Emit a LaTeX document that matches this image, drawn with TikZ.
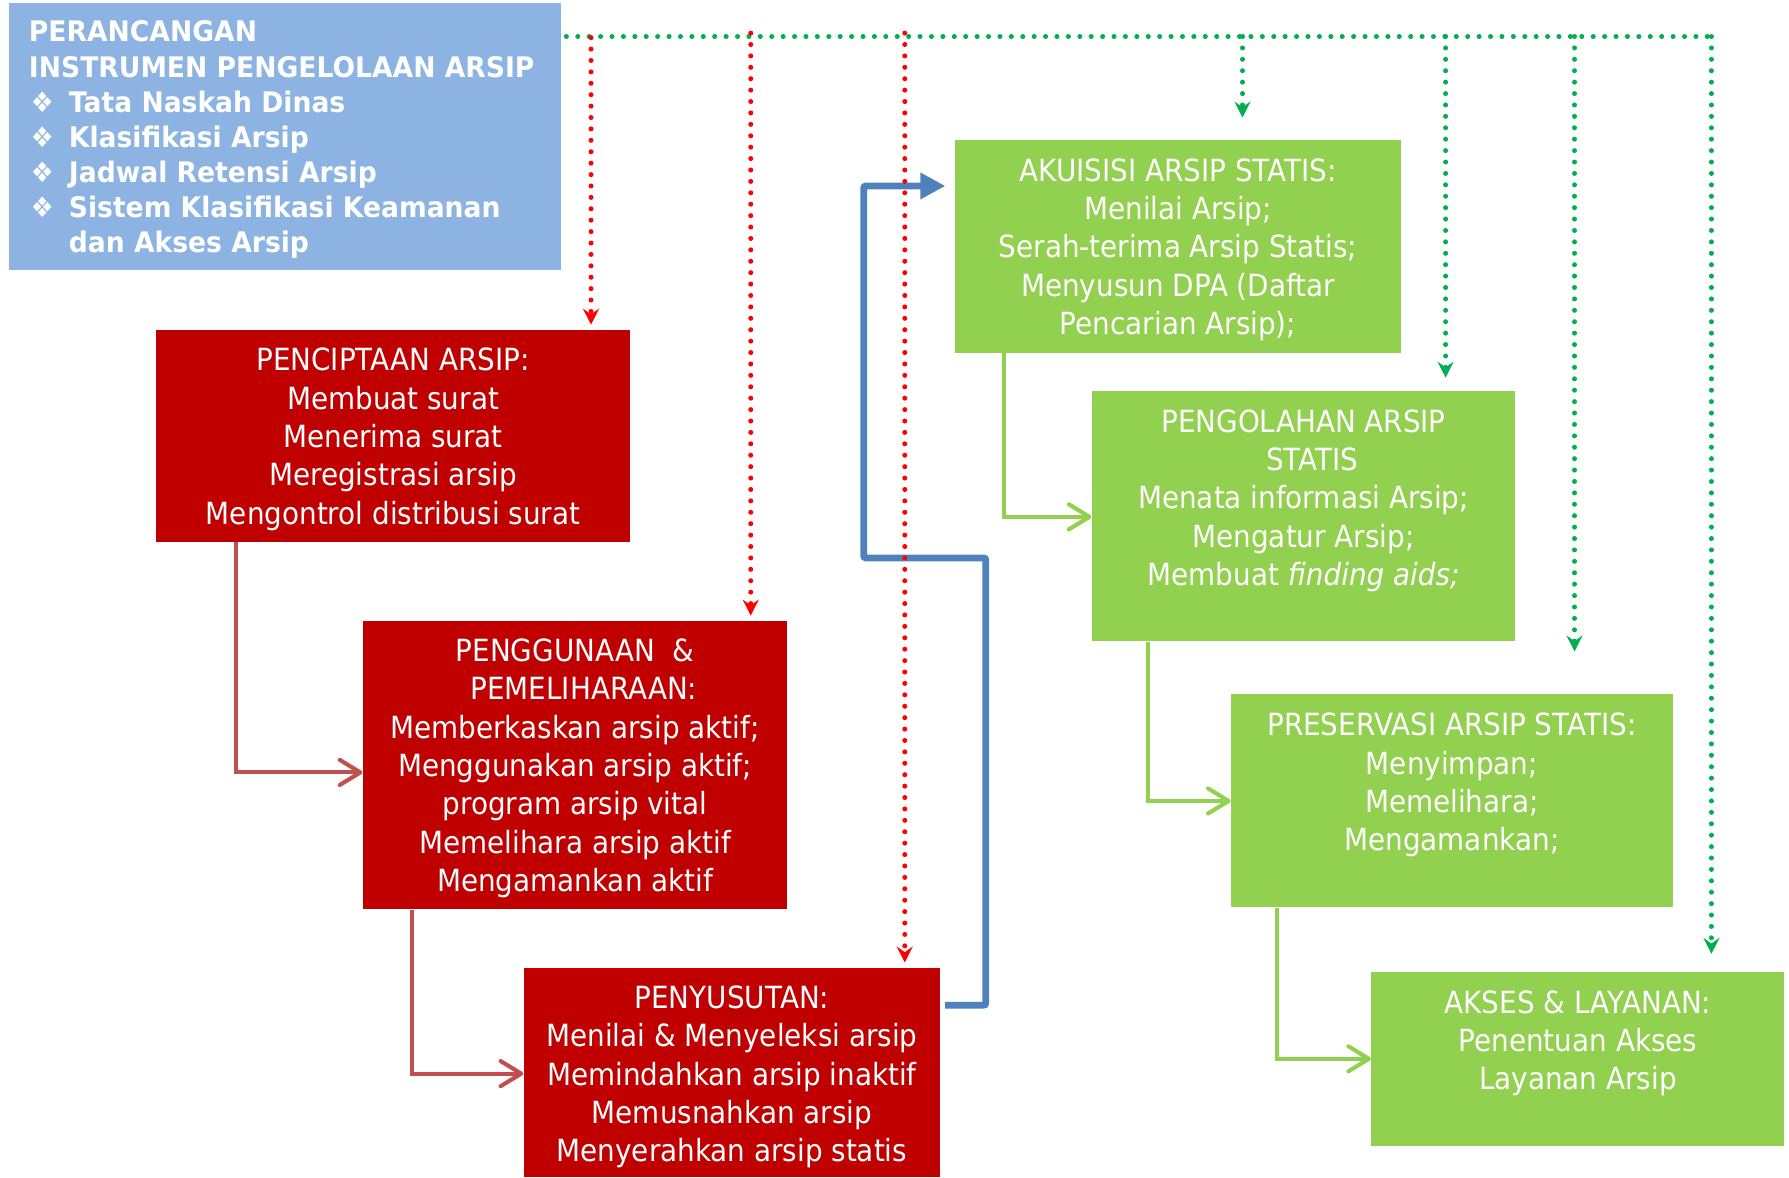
\documentclass[tikz,border=0pt]{standalone}
\usepackage{fontspec}
\setmainfont{DejaVu Sans}[FakeStretch=0.91]
\newfontfamily\headfont{DejaVu Sans}[FakeStretch=0.94]
\newfontfamily\symfont{DejaVu Sans}[FakeStretch=0.9]
\usetikzlibrary{arrows.meta,fit}
\definecolor{boxred}{HTML}{C00000}
\definecolor{boxgreen}{HTML}{92D050}
\definecolor{boxblue}{HTML}{8DB3E2}
\definecolor{linkred}{HTML}{C0504D}
\definecolor{linkblue}{HTML}{4F81BD}
\definecolor{dotgreen}{HTML}{00B050}
\definecolor{dotred}{HTML}{FF0000}
\newcommand\planitem{\makebox[17.5pt][l]{\hspace{0.8pt}\symfont\mdseries ❖}}

\begin{document}
\begin{tikzpicture}[x=0.5pt,y=-0.5pt,
  panel/.style={inner sep=0pt, draw=none},
  redbox/.style={panel, fill=boxred},
  greenbox/.style={panel, fill=boxgreen},
  bluebox/.style={panel, fill=boxblue},
  boxtxt/.style={inner sep=0pt, anchor=north, align=center, text=white,
    font=\fontsize{13.4}{16.8}\selectfont},
  headtxt/.style={inner sep=0pt, anchor=north west, align=left, text=white,
    font=\headfont\bfseries\fontsize{12.4}{15.4}\selectfont},
  barbtip/.style={-{Straight Barb[length=9pt,width=11pt,round]}},
  redflow/.style={barbtip, draw=linkred, line width=1.8pt},
  greenflow/.style={barbtip, draw=boxgreen, line width=1.8pt},
  blueflow/.style={-{Triangle[length=11pt,width=11pt]}, draw=linkblue, line width=3pt},
  dotline/.style={line width=2.2pt, line cap=round, dash pattern=on 0pt off 5pt},
  dottip/.style={-{Stealth[length=7pt,width=7pt,inset=2.5pt]}},
  reddots/.style={dotline, dottip, draw=dotred, color=dotred},
  greendots/.style={dotline, draw=dotgreen, color=dotgreen},
]
\useasboundingbox (0,0) rectangle (1568,1032);

% ---- planning instruments panel ----
\node[bluebox, fit={(8,3) (492,237)}] (plan) {};
\node[headtxt] (plant) at (25,18) {PERANCANGAN\\
  INSTRUMEN PENGELOLAAN ARSIP\\
  \planitem Tata Naskah Dinas\\
  \planitem Klasifikasi Arsip\\
  \planitem Jadwal Retensi Arsip\\
  \planitem Sistem Klasifikasi Keamanan\\
  \makebox[17.5pt][l]{}dan Akses Arsip};

% ---- dynamic archive boxes ----
\node[redbox, fit={(137,289) (552,475)}] (pc) {};
\node[boxtxt] (pct) at ([yshift=-8pt]pc.north) {PENCIPTAAN ARSIP:\\Membuat surat\\Menerima surat\\Meregistrasi arsip\\Mengontrol distribusi surat};

\node[redbox, fit={(318,544) (690,797)}] (pg) {};
\node[boxtxt] (pgt) at ([yshift=-8pt]pg.north) {PENGGUNAAN\ \ \&\\\ \ PEMELIHARAAN:\\Memberkaskan arsip aktif;\\Menggunakan arsip aktif;\\program arsip vital\\Memelihara arsip aktif\\Mengamankan aktif};

\node[redbox, fit={(459,848) (824,1032)}] (ps) {};
\node[boxtxt] (pst) at ([yshift=-8pt]ps.north) {PENYUSUTAN:\\Menilai \& Menyeleksi arsip\\Memindahkan arsip inaktif\\Memusnahkan arsip\\Menyerahkan arsip statis};

% ---- static archive boxes ----
\node[greenbox, fit={(837,123) (1228,309)}] (ak) {};
\node[boxtxt] (akt) at ([yshift=-8pt]ak.north) {AKUISISI ARSIP STATIS:\\Menilai Arsip;\\Serah-terima Arsip Statis;\\Menyusun DPA (Daftar\\Pencarian Arsip);};

\node[greenbox, fit={(957,343) (1328,562)}] (po) {};
\node[boxtxt] (pot) at ([yshift=-8pt]po.north) {PENGOLAHAN ARSIP\\\ \ STATIS\\Menata informasi Arsip;\\Mengatur Arsip;\\Membuat \textit{finding aids;}};

\node[greenbox, fit={(1079,608) (1466,795)}] (pr) {};
\node[boxtxt] (prt) at ([yshift=-8.5pt]pr.north) {PRESERVASI ARSIP STATIS:\\Menyimpan;\\Memelihara;\\Mengamankan;};

\node[greenbox, fit={(1202,852) (1564,1004)}] (al) {};
\node[boxtxt] (alt) at ([yshift=-8pt]al.north) {AKSES \& LAYANAN:\\Penentuan Akses\\Layanan Arsip};

% ---- flow between boxes ----
\draw[redflow] (pc.south -| 207,0) |- (pg.west |- 0,677);
\draw[redflow] (pg.south -| 361,0) |- (ps.west |- 0,941);

\draw[blueflow, rounded corners=1pt, shorten >=4pt]
  ([xshift=2pt]ps.east |- 0,881) -- (864,881) -- (864,489) -- (757,489) -- (757,163) -- (ak.west |- 0,163);

\draw[greenflow] (ak.south -| 880,0) |- (po.west |- 0,453);
\draw[greenflow] (po.south -| 1006,0) |- (pr.west |- 0,702);
\draw[greenflow] (pr.south -| 1119,0) |- (al.west |- 0,928);

% ---- instrument links ----
\coordinate (g0) at (plan.east |- 0,32);
\coordinate (g1) at (1089,32);
\coordinate (g2) at (1267,32);
\coordinate (g3) at (1380,32);
\coordinate (g4) at (1500,32);
\coordinate (e1) at (1089,103);
\coordinate (e2) at (1267,331);
\coordinate (e3) at (1380,571);
\coordinate (e4) at (1500,836);

\draw[greendots] ([xshift=2pt]g0) -- (g4);
\draw[greendots, dottip] (g1) -- (e1);
\draw[greendots, dottip] (g2) -- (e2);
\draw[greendots, dottip] (g3) -- (e3);
\draw[greendots, dottip] (g4) -- (e4);

\coordinate (r1) at (518,33);
\coordinate (r2) at (658,29);
\coordinate (r3) at (793,29);
\draw[reddots, shorten >=2pt] (r1) -- (pc.north -| r1);
\draw[reddots, shorten >=2pt] (r2) -- (pg.north -| r2);
\draw[reddots, shorten >=2pt] (r3) -- (ps.north -| r3);
\end{tikzpicture}
\end{document}
